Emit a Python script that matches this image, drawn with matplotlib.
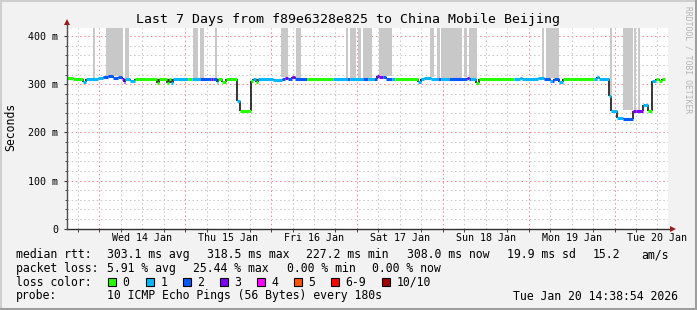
import numpy as np
import matplotlib
matplotlib.use("Agg")
import matplotlib.pyplot as plt
from matplotlib.patches import Rectangle
from matplotlib.lines import Line2D

# ---------------- data ----------------
# median RTT step segments: start (hours since graph start), median (ms), loss count index
seg_start_h = [0.00, 1.68, 4.48, 5.32, 8.68, 10.08, 11.48, 12.88, 14.28, 15.40, 15.96, 16.24,
               17.64, 19.04, 25.20, 25.76, 28.00, 28.56, 29.12, 29.68, 33.88, 35.00, 37.24,
               40.32, 40.88, 42.00, 42.28, 43.40, 44.52, 47.60, 48.44, 51.52, 52.08, 52.92,
               53.48, 57.68, 60.20, 61.04, 61.88, 63.00, 63.84, 67.20, 74.48, 78.40, 79.24,
               82.88, 84.00, 85.68, 86.52, 87.08, 88.20, 89.04, 90.72, 91.56, 98.00, 98.84,
               99.68, 101.64, 103.60, 104.44, 106.68, 111.72, 112.28, 112.84, 114.24, 115.08,
               124.88, 126.56, 127.12, 131.60, 133.28, 134.96, 135.52, 136.08, 137.48, 138.60,
               147.28, 148.12, 148.68, 151.48, 152.04, 153.72, 155.40, 158.20, 159.04, 161.00,
               162.40, 163.52, 164.64, 165.48, 166.32]
seg_median_ms = [313, 310, 304, 311, 313, 314, 316, 313, 314, 311, 304, 310,
                 306, 311, 303, 311, 303, 311, 303, 311, 311, 311, 311,
                 311, 311, 304, 311, 305, 311, 265, 244, 306, 311, 304,
                 311, 309, 310, 313, 311, 314, 311, 311, 311, 311, 311,
                 311, 311, 311, 318, 314, 315, 311, 311, 311, 305, 311,
                 313, 311, 311, 311, 311, 313, 311, 311, 303, 311,
                 311, 313, 311, 313, 311, 306, 306, 311, 305, 311,
                 311, 314, 311, 275, 245, 229, 228, 245, 244, 256,
                 244, 306, 310, 306, 311]
seg_loss = [0, 0, 1, 1, 1, 2, 2, 2, 2, 3, 3, 1,
            1, 0, 0, 0, 0, 0, 1, 1, 0, 1, 2,
            3, 2, 1, 0, 0, 0, 1, 0, 0, 1, 0,
            1, 1, 2, 3, 2, 3, 2, 0, 1, 2, 1,
            2, 1, 2, 3, 3, 2, 2, 1, 0, 1, 1,
            1, 1, 2, 1, 2, 3, 2, 1, 0, 0,
            1, 1, 1, 1, 2, 1, 2, 2, 1, 0,
            1, 1, 1, 1, 1, 1, 2, 3, 3, 1,
            0, 1, 0, 0, 0]
data_end_h = 167.16

# smoke (gray) intervals in hours since graph start
smoke_start_h = [7.28, 10.92, 16.24, 35.28, 37.24, 41.44, 59.92, 64.12, 78.12, 79.24, 81.48,
                 82.88, 87.08, 101.36, 103.32, 104.44, 110.88, 112.28, 132.72, 133.84,
                 151.76, 155.40, 158.48, 159.60]
smoke_end_h = [7.84, 15.60, 17.36, 36.68, 38.36, 42.00, 61.88, 65.52, 78.68, 80.92, 82.32,
               85.12, 90.72, 102.48, 104.16, 110.32, 111.72, 114.52, 133.28, 137.48,
               152.32, 158.20, 159.04, 160.16]

loss_labels = ["0", "1", "2", "3", "4", "5", "6-9", "10/10"]
loss_colors = ["#26ff00", "#00b8ff", "#0059ff", "#7e00ff", "#ff00ff", "#ff5500", "#ff0000", "#a10000"]

day_labels = ["Wed 14 Jan", "Thu 15 Jan", "Fri 16 Jan", "Sat 17 Jan",
              "Sun 18 Jan", "Mon 19 Jan", "Tue 20 Jan"]
first_midnight_h = 9.05
span_h = 168.0

y_ticks = [0, 100, 200, 300, 400]
y_tick_labels = ["0", "100 m", "200 m", "300 m", "400 m"]

title = "Last 7 Days from f89e6328e825 to China Mobile Beijing"
stats_rtt = ["median rtt:", "303.1 ms avg", "318.5 ms max", "227.2 ms min",
             "308.0 ms now", "19.9 ms sd", "15.2", "am/s"]
stats_loss = ["packet loss:", "5.91 % avg", "25.44 % max", "0.00 % min", "0.00 % now"]
probe_text = "10 ICMP Echo Pings (56 Bytes) every 180s"
stamp_text = "Tue Jan 20 14:38:54 2026"

# ---------------- figure ----------------
W, H = 697, 310
MONO = "DejaVu Sans Mono"
plt.rcParams["font.family"] = MONO

fig = plt.figure(figsize=(W / 100, H / 100), dpi=100, facecolor="#f2f2f2")

def fx(px):
    return px / W

def fy(py):
    return 1 - py / H

# border shading
fig.add_artist(Line2D([fx(1), fx(1)], [fy(0), fy(H)], transform=fig.transFigure, color="#cfcfcf", lw=1.5))
fig.add_artist(Line2D([fx(0), fx(W)], [fy(1), fy(1)], transform=fig.transFigure, color="#cfcfcf", lw=1.5))
fig.add_artist(Line2D([fx(W - 1.5), fx(W - 1.5)], [fy(0), fy(H)], transform=fig.transFigure, color="#9e9e9e", lw=2.2))
fig.add_artist(Line2D([fx(0), fx(W)], [fy(H - 1.5), fy(H - 1.5)], transform=fig.transFigure, color="#9e9e9e", lw=2.2))

ax_left, ax_right, ax_top, ax_bottom = 67, 668, 28, 228.7
ax = fig.add_axes([fx(ax_left), fy(ax_bottom), (ax_right - ax_left) / W, (ax_bottom - ax_top) / H])
ax.set_facecolor("white")
ax.set_xlim(0, span_h)
ax.set_ylim(0, 416.6)
for s in ax.spines.values():
    s.set_visible(False)

dots = (0, (1.4, 2.6))
# grid
for yv in np.arange(20, 420, 20):
    if yv % 100 == 0:
        ax.axhline(yv, color="#f08c8c", lw=0.75, ls=dots, zorder=1)
    else:
        ax.axhline(yv, color="#c8c8c8", lw=0.75, ls=dots, zorder=1)
minor_x = np.arange(first_midnight_h - 6, span_h, 6)
for xv in minor_x:
    if xv <= 0:
        continue
    q = (xv - first_midnight_h) / 24
    is_major = abs(q - round(q)) < 1e-6
    ax.axvline(xv, color="#f08c8c" if is_major else "#c8c8c8", lw=0.75, ls=dots, zorder=1)

# smoke
starts = np.array(seg_start_h)
meds = np.array(seg_median_ms, dtype=float)
for a, b in zip(smoke_start_h, smoke_end_h):
    i0 = max(np.searchsorted(starts, a, side="right") - 1, 0)
    i1 = max(np.searchsorted(starts, b, side="right") - 1, 0)
    lo = meds[i0:i1 + 1].max() + 2
    ax.fill_between([a, b], [lo, lo], [430, 430], color="#c8c8c8", lw=0, zorder=2)

# median: black step connectors, then coloured horizontal segments
ends = list(seg_start_h[1:]) + [data_end_h]
for i in range(len(seg_start_h) - 1):
    ax.plot([ends[i], ends[i]], [seg_median_ms[i], seg_median_ms[i + 1]],
            color="black", lw=1.1, zorder=3, solid_capstyle="butt")
for i in range(len(seg_start_h)):
    ax.plot([seg_start_h[i], ends[i]], [seg_median_ms[i], seg_median_ms[i]],
            color=loss_colors[seg_loss[i]], lw=2.2, zorder=4, solid_capstyle="butt")

# ticks
noons = first_midnight_h + 12 + 24 * np.arange(len(day_labels))
ax.set_xticks(noons, day_labels)
ax.set_xticks(minor_x[minor_x > 0], minor=True)
ax.set_yticks(y_ticks, y_tick_labels)
ax.set_yticks(np.arange(0, 420, 20), minor=True)
ax.tick_params(axis="x", which="major", length=0, pad=3.2, labelsize=7.2)
ax.tick_params(axis="y", which="major", length=2, pad=4.5, labelsize=7.2, color="#404040")
ax.tick_params(axis="x", which="minor", length=2, color="#404040", width=0.7)
ax.tick_params(axis="y", which="minor", length=1.5, color="#404040", width=0.7)

# axis lines with arrows
ax.plot([0, 1.007], [0, 0], transform=ax.transAxes, color="#303030", lw=1.0, clip_on=False, zorder=6)
ax.plot([0, 0], [0, 1.03], transform=ax.transAxes, color="#505050", lw=1.0, clip_on=False, zorder=6)
ax.plot([1.008], [0], transform=ax.transAxes, marker=">", ms=4.5, color="#9b1c1c", clip_on=False, zorder=7, mew=0)
ax.plot([0], [1.03], transform=ax.transAxes, marker="^", ms=4.5, color="#9b1c1c", clip_on=False, zorder=7, mew=0)

# texts
fig.text(fx(348), fy(19.5), title, ha="center", va="center", fontsize=9.5, color="black")
fig.text(fx(11), fy(127), "Seconds", rotation=90, ha="center", va="center", fontsize=8.3)
fig.text(fx(688), fy(60), "RRDTOOL / TOBI OETIKER", rotation=270, ha="center", va="center",
         fontsize=5.8, color="#b4b4b4")

fs = 8.3
rtt_x = [16, 107, 207, 306, 406.7, 506.7, 593, 641.7]
for t, xp in zip(stats_rtt, rtt_x):
    fig.text(fx(xp), fy(254.5), t, ha="left", va="center", fontsize=fs)
loss_x = [16, 107, 193, 287, 372.3]
for t, xp in zip(stats_loss, loss_x):
    fig.text(fx(xp), fy(268.5), t, ha="left", va="center", fontsize=fs)
fig.text(fx(16), fy(282), "loss color:", ha="left", va="center", fontsize=fs)
box_x = [108, 146, 183, 220, 257, 294, 331, 381.7]
for lab, col, bx in zip(loss_labels, loss_colors, box_x):
    fig.add_artist(Rectangle((fx(bx), fy(286)), 8 / W, 8 / H, transform=fig.transFigure,
                             facecolor=col, edgecolor="black", lw=0.8))
    fig.text(fx(bx + 14.5), fy(282), lab, ha="left", va="center", fontsize=fs)
fig.text(fx(16), fy(296), "probe:", ha="left", va="center", fontsize=fs)
fig.text(fx(107), fy(296), probe_text, ha="left", va="center", fontsize=fs)
fig.text(fx(513.3), fy(296), stamp_text, ha="left", va="center", fontsize=fs)

fig.savefig("out.png", dpi=100, facecolor=fig.get_facecolor())
